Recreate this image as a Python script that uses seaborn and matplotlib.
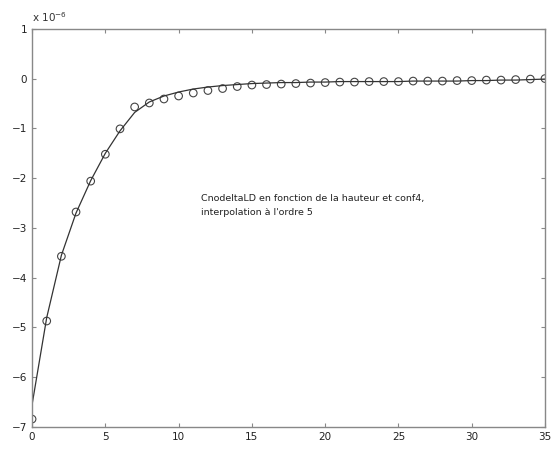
# Dependencies
import numpy as np
import pandas as pd
import matplotlib
matplotlib.use("Agg")
import matplotlib.pyplot as plt
import seaborn as sns

# Data (units of 1e-6)
hauteur = list(range(36))
mesures = [-6.84, -4.87, -3.57, -2.68, -2.06, -1.52, -1.01, -0.57, -0.49, -0.41,
           -0.35, -0.29, -0.24, -0.20, -0.16, -0.13, -0.12, -0.11, -0.10, -0.09,
           -0.08, -0.07, -0.07, -0.06, -0.06, -0.06, -0.05, -0.05, -0.05, -0.04,
           -0.04, -0.03, -0.03, -0.02, -0.01, 0.00]
interpol = [-6.55, -4.80, -3.55, -2.70, -2.05, -1.50, -1.05, -0.68, -0.47, -0.35,
            -0.27, -0.21, -0.17, -0.14, -0.12, -0.10, -0.09, -0.08, -0.08, -0.07,
            -0.07, -0.06, -0.06, -0.06, -0.06, -0.06, -0.05, -0.05, -0.05, -0.05,
            -0.04, -0.04, -0.03, -0.03, -0.02, -0.01]
xticks = [0, 5, 10, 15, 20, 25, 30, 35]
yticks = [-7, -6, -5, -4, -3, -2, -1, 0, 1]

df = pd.DataFrame({"h": hauteur, "mes": mesures, "fit": interpol})

sns.set_style("ticks")
plt.rcParams["font.family"] = ["DejaVu Sans"]

fig = plt.figure(figsize=(5.53, 4.5), dpi=100)
ax = fig.add_axes([0.058, 0.051, 0.9275, 0.885])

sns.lineplot(data=df, x="h", y="fit", color="#333333", linewidth=0.9, ax=ax)
sns.scatterplot(data=df, x="h", y="mes", marker="o", s=30, facecolor="none",
                edgecolor="#444444", linewidth=0.8, ax=ax)

ax.set_xlim(0, 35)
ax.set_ylim(-7, 1)
ax.set_xticks(xticks)
ax.set_yticks(yticks)
ax.set_xlabel("")
ax.set_ylabel("")
ax.tick_params(direction="in", length=3, labelsize=7.5, top=True, right=True,
               color="#888888", labelcolor="#222222")
for s in ax.spines.values():
    s.set_color("#888888")
    s.set_linewidth(1.0)

ax.text(0.0, 1.012, r"x 10$^{-6}$", transform=ax.transAxes, fontsize=7.5,
        color="#333333", va="bottom", ha="left")
ax.text(11.5, -2.55, "CnodeltaLD en fonction de la hauteur et conf4,\ninterpolation à l'ordre 5",
        fontsize=6.8, color="#222222", va="center", ha="left", linespacing=1.6)

fig.savefig("out.png", dpi=100)
